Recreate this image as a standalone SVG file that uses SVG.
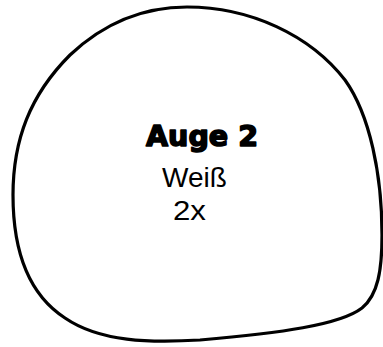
<svg xmlns="http://www.w3.org/2000/svg" width="383" height="347" viewBox="0 0 383 347">
<style>
.shape{fill:#ffffff;stroke:#000000;stroke-width:3.2;stroke-linejoin:round}
.title{font-family:"DejaVu Sans",sans-serif;font-weight:bold;font-size:29px;fill:#000;stroke:#000;stroke-width:1.6;stroke-linejoin:round}
.body{font-family:"Liberation Sans",Arial,sans-serif;font-size:28px;fill:#000}
</style>
<rect width="383" height="347" fill="#ffffff"/>
<g id="node-auge2">
<path class="shape" d="M 187,7 C 250,7 310,35 345,80 C 370,115 382,175 382,235 C 382,270 378,295 362,308 C 340,325 280,333 200,340 C 150,343 100,342 65,318 C 25,292 13,245 13,195 C 13,140 30,95 70,55 C 105,22 145,7 187,7 Z"/>
<text class="title" x="146" y="146" textLength="112" lengthAdjust="spacingAndGlyphs">Auge 2</text>
<text class="body" x="162" y="186.5">Weiß</text>
<text class="body" x="173" y="220" font-size="26" textLength="33" lengthAdjust="spacingAndGlyphs">2x</text>
</g>
<g id="connectors"></g>
</svg>
